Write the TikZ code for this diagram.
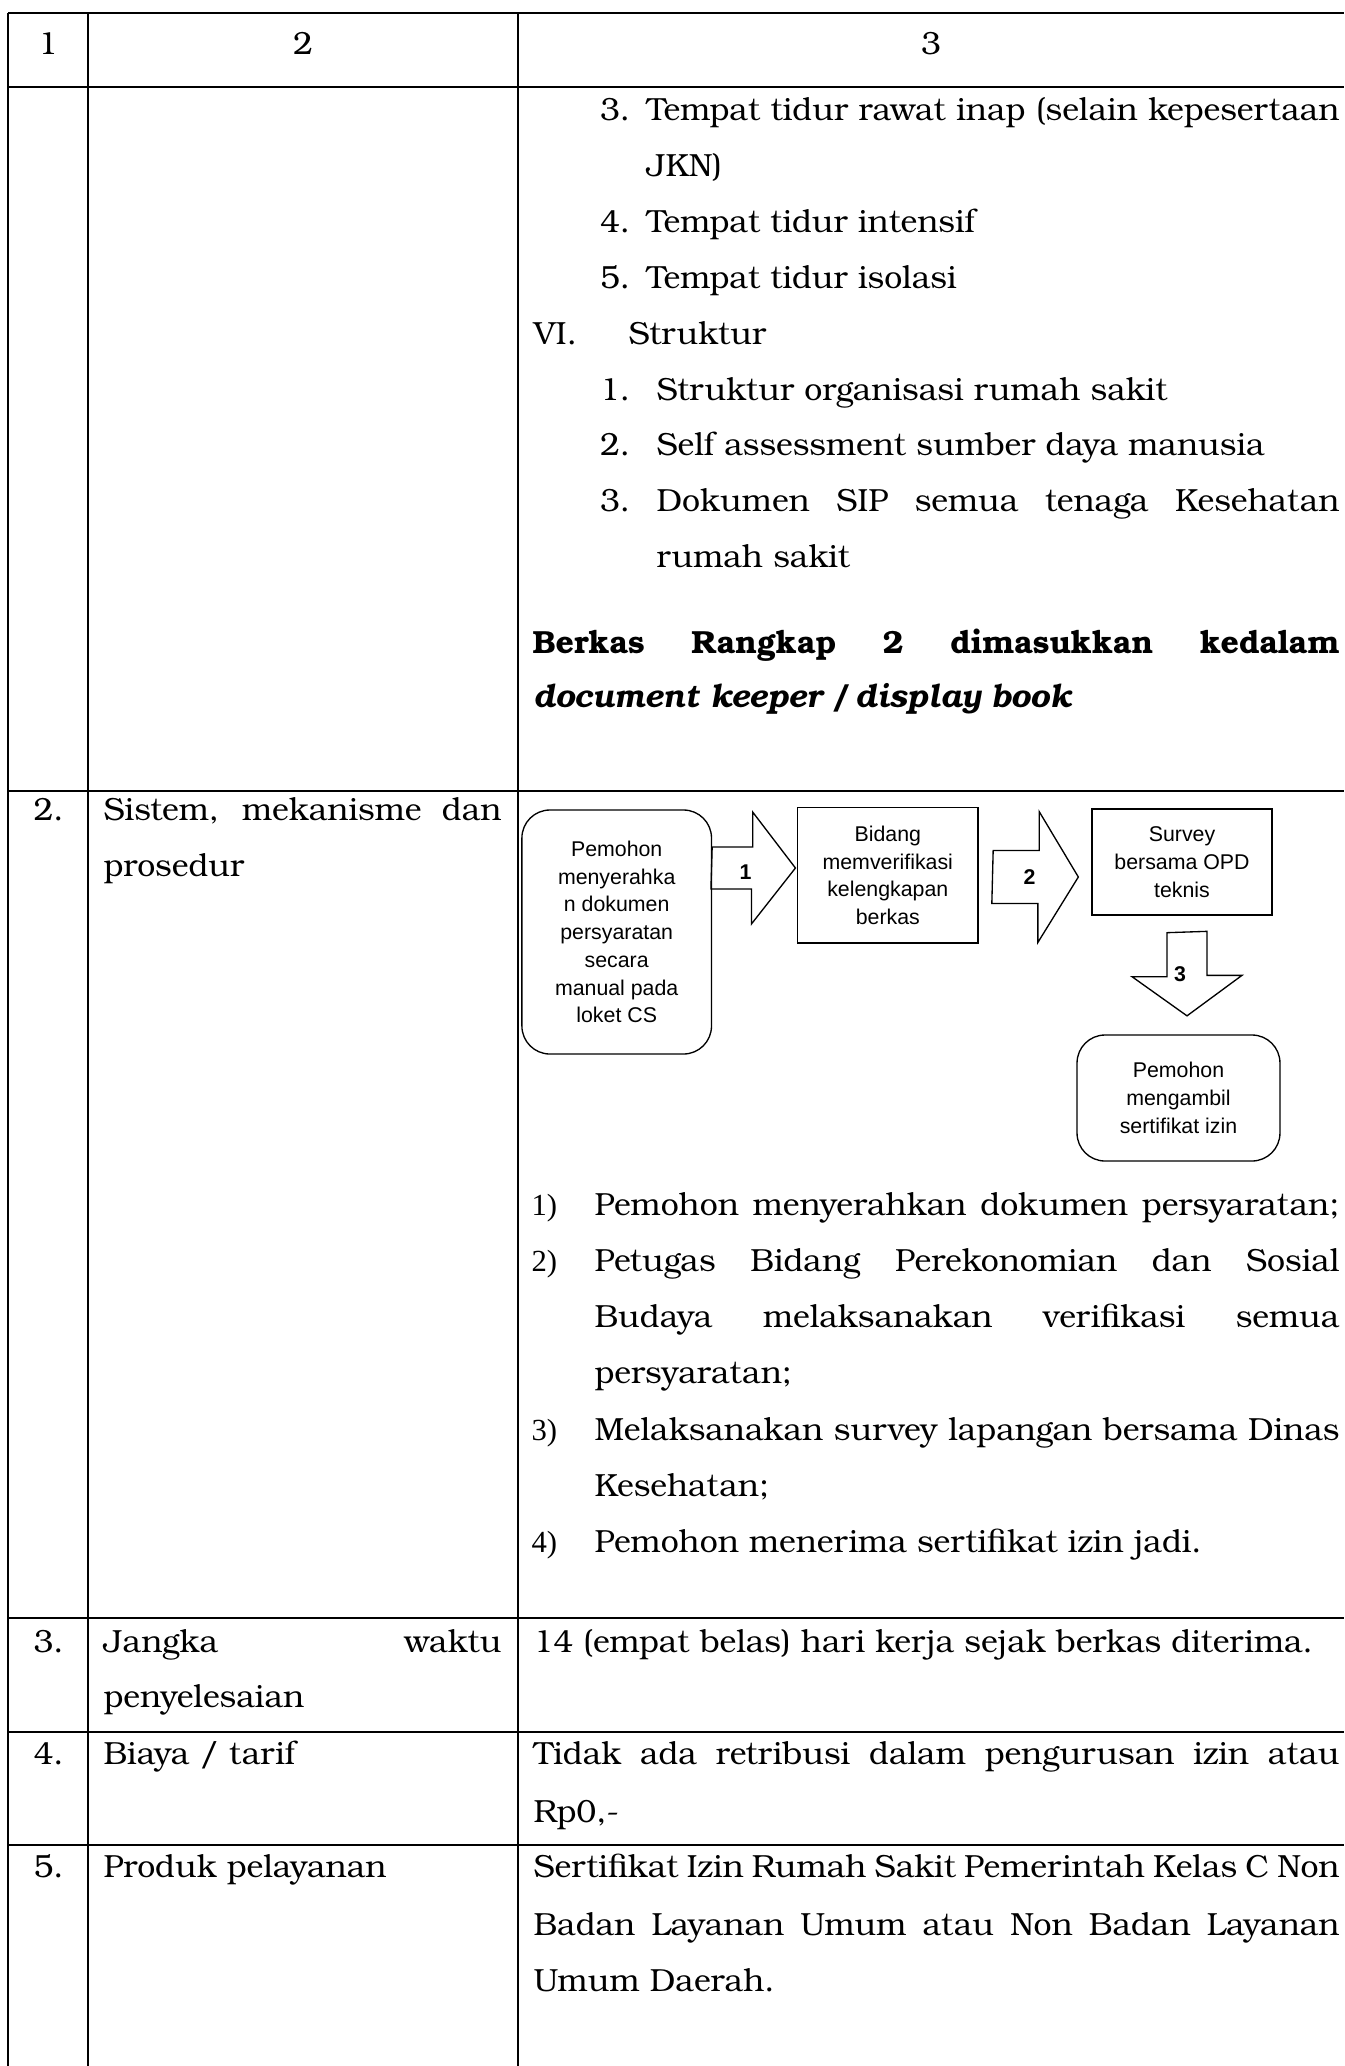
\documentclass[tikz,border=0pt]{standalone}
\usepackage{fontspec}
\setmainfont{TeX Gyre Bonum}
\newfontfamily\flowfont{Liberation Sans}
\newfontfamily\numfont{Liberation Serif}
\usetikzlibrary{calc}
\newlength\pxunit
\setlength\pxunit{0.375pt}
\newcommand{\justline}[2]{\makebox[#1\pxunit][s]{#2}}
\begin{document}
\begin{tikzpicture}[x=0.375pt, y=-0.375pt, font=\fontsize{12}{14}\selectfont,
  txt/.style={anchor=base west, inner sep=0pt},
  hdr/.style={anchor=base, inner sep=0pt},
  lnum/.style={anchor=base west, inner sep=0pt, font=\numfont\fontsize{11.5}{13}\selectfont},
  grid/.style={line width=0.75pt},
  box/.style={draw, line width=0.5pt, align=center, inner sep=0pt, font=\flowfont\fontsize{8}{10.4}\selectfont},
  roundbox/.style={box, rounded corners=10.5pt},
  flow/.style={draw, line width=0.5pt, line join=miter},
  steplbl/.style={inner sep=0pt, font=\flowfont\bfseries\fontsize{8}{9}\selectfont}]
 \useasboundingbox (0,0) rectangle (1344,2066);
 % table rules
 \draw[grid] (8,12.7) -- (1344,12.7);
 \foreach \y in {86.7,790.7,1618,1732,1845}
   \draw[grid] (8,\y) -- (1344,\y);
 \foreach \x in {8,88,518}
   \draw[grid] (\x,12.7) -- (\x,2066);
 \node[hdr] (h1) at (48,54.5) {1};
 \node[hdr] (h2) at (303,54.5) {2};
 \node[hdr] (h3) at (931,54.5) {3};
 % row 1
 \node[txt] (pa3) at (599.5,120.5) {3.};
 \node[txt] (pa3t) at (646,120.5) {\justline{693}{Tempat tidur rawat inap (selain kepesertaan}};
 \node[txt] (pa3u) at (646,176.4) {JKN)};
 \node[txt] (pa4) at (599.5,232.3) {4.};
 \node[txt] (pa4t) at (646,232.3) {Tempat tidur intensif};
 \node[txt] (pa5) at (599.5,288.2) {5.};
 \node[txt] (pa5t) at (646,288.2) {Tempat tidur isolasi};
 \node[txt] (vi) at (533,344.1) {VI.};
 \node[txt] (vit) at (628,344.1) {Struktur};
 \node[txt] (pb1) at (599.5,400) {1.};
 \node[txt] (pb1t) at (656,400) {Struktur organisasi rumah sakit};
 \node[txt] (pb2) at (599.5,455.9) {2.};
 \node[txt] (pb2t) at (656,455.9) {Self assessment sumber daya manusia};
 \node[txt] (pb3) at (599.5,511.8) {3.};
 \node[txt] (pb3t) at (656,511.8) {\justline{683}{Dokumen SIP semua tenaga Kesehatan}};
 \node[txt] (pb3u) at (656,567.7) {rumah sakit};
 \node[txt] (berkas) at (532,653) {\bfseries\justline{807}{Berkas Rangkap 2 dimasukkan kedalam}};
 \node[txt] (keeper) at (533,707) {\bfseries\itshape document keeper / display book};
 % row 2
 \node[txt] (n2) at (33,820) {2.};
 \node[txt] (k2a) at (103,820) {\justline{398}{Sistem, mekanisme dan}};
 \node[txt] (k2b) at (103,876) {prosedur};
 \node[roundbox, minimum width=71.1pt, minimum height=91.5pt] (boxA) at (616.7,932)
   {Pemohon\\menyerahka\\n dokumen\\persyaratan\\secara\\manual pada\\loket CS};
 \node[box, minimum width=67.65pt, minimum height=50.74pt] (boxB) at (887.8,875.4)
   {Bidang\\memverifikasi\\kelengkapan\\berkas};
 \node[box, minimum width=67.5pt, minimum height=39.75pt] (boxC) at (1182,862)
   {Survey\\bersama OPD\\teknis};
 \node[roundbox, minimum width=76.1pt, minimum height=47.25pt] (boxD) at (1178.5,1098)
   {Pemohon\\mengambil\\sertifikat izin};
 \coordinate (a1) at ($(boxA.east)+(0,-64)$);
 \coordinate (t1) at ($(boxB.west)+(-1.5,-7.4)$);
 \draw[flow] (a1) ++(0,-21) -- ++(40.5,0) -- ++(0,-35) -- (t1) -- ++(-44,56) -- ++(0,-35) -- ++(-40.5,0) -- cycle;
 \coordinate (a2) at ($(boxB.east)+(14.5,1.6)$);
 \coordinate (t2) at ($(boxC.west)+(-13,15)$);
 \draw[flow] (a2) ++(0,-26.5) -- ++(46,0) -- ++(0,-39) -- (t2) -- ++(-40.5,65.5) -- ++(0,-39) -- ++(-46,0) -- cycle;
 \coordinate (a3) at ($(boxC.south)+(5,17)$);
 \coordinate (t3) at ($(boxD.north)+(8.5,-18.5)$);
 \draw[flow] (a3) ++(-20,0) -- ++(0,44) -- ++(-35,0) -- (t3) -- ++(55,-40.5) -- ++(-35,0) -- ++(0,-44) -- cycle;
 \node[steplbl] (s1) at ($(a1)+(33.5,4)$) {1};
 \node[steplbl] (s2) at ($(a2)+(36.5,0)$) {2};
 \node[steplbl] (s3) at ($(a3)+(-7,41)$) {3};
 \node[lnum] (l1) at (531,1215) {1)};
 \node[txt] (l1t) at (594,1215) {\justline{745}{Pemohon menyerahkan dokumen persyaratan;}};
 \node[lnum] (l2) at (531,1271) {2)};
 \node[txt] (l2t) at (594,1271) {\justline{745}{Petugas Bidang Perekonomian dan Sosial}};
 \node[txt] (l2u) at (594,1327) {\justline{745}{Budaya melaksanakan verifikasi semua}};
 \node[txt] (l2v) at (594,1383.5) {persyaratan;};
 \node[lnum] (l3) at (531,1440) {3)};
 \node[txt] (l3t) at (594,1440) {\justline{745}{Melaksanakan survey lapangan bersama Dinas}};
 \node[txt] (l3u) at (594,1496) {Kesehatan;};
 \node[lnum] (l4) at (531,1552) {4)};
 \node[txt] (l4t) at (594,1552) {Pemohon menerima sertifikat izin jadi.};
 % rows 3 to 5
 \node[txt] (n3) at (33,1652) {3.};
 \node[txt] (k3a) at (103,1652) {\justline{398}{Jangka waktu}};
 \node[txt] (k3b) at (103,1707) {penyelesaian};
 \node[txt] (v3) at (533,1652) {14 (empat belas) hari kerja sejak berkas diterima.};
 \node[txt] (n4) at (33,1764) {4.};
 \node[txt] (k4) at (103,1764) {Biaya / tarif};
 \node[txt] (v4a) at (533,1764) {\justline{806}{Tidak ada retribusi dalam pengurusan izin atau}};
 \node[txt] (v4b) at (533,1822) {Rp0,-};
 \node[txt] (n5) at (33,1877) {5.};
 \node[txt] (k5) at (103,1877) {Produk pelayanan};
 \node[txt] (v5a) at (533,1877) {\justline{806}{Sertifikat Izin Rumah Sakit Pemerintah Kelas C Non}};
 \node[txt] (v5b) at (533,1935) {\justline{806}{Badan Layanan Umum atau Non Badan Layanan}};
 \node[txt] (v5c) at (533,1991) {Umum Daerah.};
\end{tikzpicture}
\end{document}
